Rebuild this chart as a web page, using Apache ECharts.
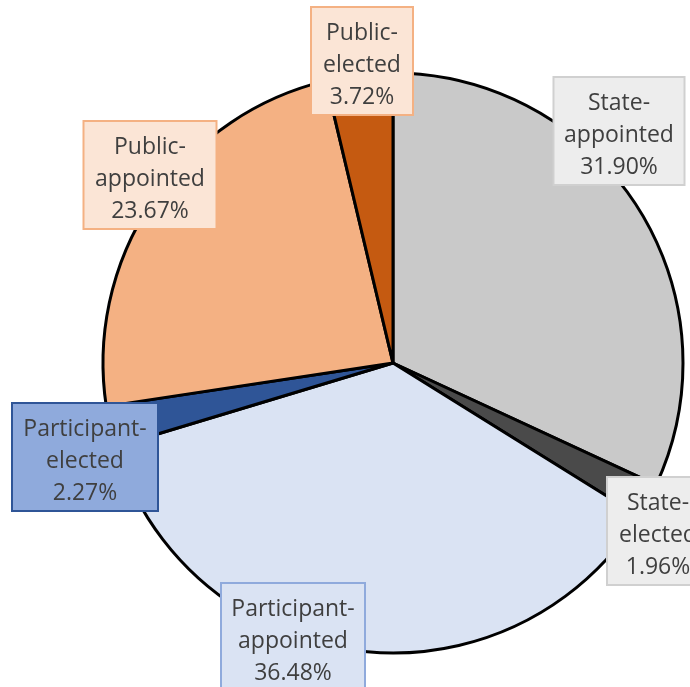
<!DOCTYPE html>
<html>
<head>
<meta charset="utf-8">
<script src="https://cdn.jsdelivr.net/npm/echarts@6/dist/echarts.min.js"></script>
<style>
  html, body { margin: 0; padding: 0; background: #ffffff; }
  #chart { width: 690px; height: 687px; }
</style>
</head>
<body>
<div id="chart"></div>
<script>
// Board composition shares, clockwise from 12 o'clock
const categories = ['State-appointed', 'State-elected', 'Participant-appointed', 'Participant-elected', 'Public-appointed', 'Public-elected'];
const shares = [31.90, 1.96, 36.48, 2.27, 23.67, 3.72];

// Slice fill colours
const sliceColors = ['#C9C9C9', '#4A4A4A', '#DAE3F3', '#2F5597', '#F4B183', '#C55A11'];
// Label box styling per slice
const labelFill = ['#EDEDED', '#EDEDED', '#DAE3F3', '#8FAADC', '#FBE5D6', '#FBE5D6'];
const labelBorder = ['#D0D0D0', '#D0D0D0', '#8FAADC', '#2F5597', '#F4B183', '#F4B183'];
// Label box top-centre anchors and widths (pixels)
const labelPos = [[619, 78], [658, 478], [293, 584], [85, 404], [150, 122], [362, 8]];
const labelWidth = [129, 100, 142, 144, 131, 100];

const chart = echarts.init(document.getElementById('chart'), null, { renderer: 'canvas' });

const data = categories.map((name, i) => ({
  name: name,
  value: shares[i],
  itemStyle: { color: sliceColors[i] },
  label: {
    backgroundColor: labelFill[i],
    borderColor: labelBorder[i],
    width: labelWidth[i] - 4,
  }
}));

chart.setOption({
  animation: false,
  backgroundColor: '#ffffff',
  series: [{
    type: 'pie',
    center: [393, 363],
    radius: 290,
    startAngle: 90,
    clockwise: true,
    avoidLabelOverlap: false,
    itemStyle: { borderColor: '#000000', borderWidth: 3 },
    label: {
      show: true,
      position: 'outside',
      formatter: p => {
        const parts = p.name.split('-');
        return parts[0] + '-\n' + parts[1] + '\n' + p.value.toFixed(2) + '%';
      },
      fontFamily: 'Open Sans',
      fontSize: 23,
      lineHeight: 32,
      color: '#3F3F3F',
      align: 'center',
      borderWidth: 2,
      padding: [9, 2, 1, 2],
      overflow: 'none'
    },
    labelLine: { show: false },
    labelLayout: params => ({
      x: labelPos[params.dataIndex][0],
      y: labelPos[params.dataIndex][1],
      align: 'center',
      verticalAlign: 'top'
    }),
    emphasis: { disabled: true },
    data: data
  }]
});
</script>
</body>
</html>
